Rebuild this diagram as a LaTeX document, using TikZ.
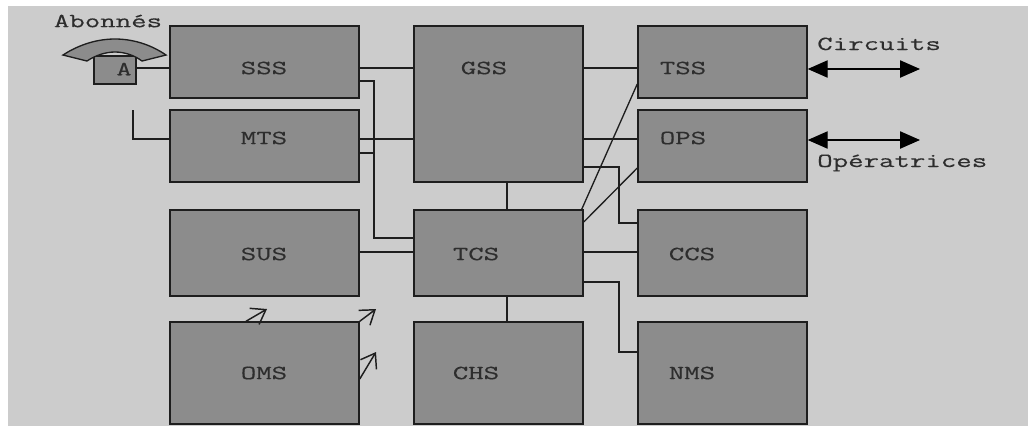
\documentclass[tikz,border=0pt]{standalone}
\usepackage{fontspec}
\setmonofont[FakeStretch=1.5, FakeBold=0.3]{Latin Modern Mono}
\usetikzlibrary{arrows.meta, positioning}
\definecolor{panelgray}{RGB}{204,204,204}
\definecolor{boxgray}{RGB}{140,140,140}
\definecolor{inkgray}{RGB}{30,30,30}
\definecolor{textgray}{RGB}{45,45,45}

\begin{document}
\begin{tikzpicture}[
  x=0.75pt, y=-0.75pt,
  box/.style 2 args={rectangle, draw=inkgray, line width=1.1pt, fill=boxgray,
              minimum width=#1*0.75pt, minimum height=#2*0.75pt, inner sep=0pt},
  lbl/.style={inner sep=0pt, text=textgray, font=\ttfamily\fontsize{15}{17}\selectfont},
  wire/.style={inkgray, line width=1pt},
  barb/.style={-{Straight Barb[length=10pt, width=14pt, line width=1.1pt]}, inkgray, line width=1.1pt},
  link/.style={{Triangle[length=15pt, width=13pt]}-{Triangle[length=15pt, width=13pt]}, black, line width=0.9pt}
]
\useasboundingbox (0,0) rectangle (1028,426);
\fill[panelgray] (8,6) rectangle (1028,426);

% left column
\node[box={189}{72}] (sss) at (264.5,62) {};
\node[box={189}{72}] (mts) at (264.5,146) {};
\node[box={189}{86}] (sus) at (264.5,253) {};
\node[box={189}{102}] (oms) at (264.5,373) {};
% middle column
\node[box={169}{156}] (gss) at (498.5,104) {};
\node[box={169}{86}] (tcs) at (498.5,253) {};
\node[box={169}{102}] (chs) at (498.5,373) {};
% right column
\node[box={169}{72}] (tss) at (722.5,62) {};
\node[box={169}{72}] (ops) at (722.5,146) {};
\node[box={169}{86}] (ccs) at (722.5,253) {};
\node[box={169}{102}] (nms) at (722.5,373) {};

\node[lbl] (ssslbl) at (264,68) {SSS};
\node[lbl] (mtslbl) at (264,138) {MTS};
\node[lbl] (suslbl) at (264,254) {SUS};
\node[lbl] (omslbl) at (264,373) {OMS};
\node[lbl] (gsslbl) at (484,68) {GSS};
\node[lbl] (tcslbl) at (476,254) {TCS};
\node[lbl] (chslbl) at (476,373) {CHS};
\node[lbl] (tsslbl) at (683,68) {TSS};
\node[lbl] (opslbl) at (683,138) {OPS};
\node[lbl] (ccslbl) at (692,254) {CCS};
\node[lbl] (nmslbl) at (692,373) {NMS};

% subscriber set
\node[box={42}{28}] (set) at (115,70) {};
\node[lbl] (setlbl) at (124,69) {A};
\filldraw[fill=boxgray, draw=inkgray, line width=1pt]
  (63,55) .. controls (80,44) and (98,39) .. (115,39)
  .. controls (132,39) and (150,44) .. (166,55) -- (142,61)
  .. controls (134,55) and (124,52) .. (115,52)
  .. controls (106,52) and (96,55) .. (87,61) -- cycle;
\node[lbl] (abonnes) at (108,21) {Abonnés};

\coordinate (spare) at (133,110);
\draw[wire] (set.east |- 0,68) -- (sss.west |- 0,68);
\draw[wire] (spare) -- (133,139) -- (mts.west |- 0,139);

\draw[wire] (sss.east |- 0,68) -- (gss.west |- 0,68);
\draw[wire] (mts.east |- 0,139) -- (gss.west |- 0,139);
\draw[wire] (sss.east |- 0,81) -- (374,81) -- (374,238) -- (tcs.west |- 0,238);
\draw[wire] (mts.east |- 0,153) -- (374,153);
\draw[wire] (sus.east |- 0,252) -- (tcs.west |- 0,252);
\draw[wire] (gss.south -| 507,0) -- (tcs.north -| 507,0);
\draw[wire] (tcs.south -| 507,0) -- (chs.north -| 507,0);

\draw[wire] (gss.east |- 0,68) -- (tss.west |- 0,68);
\draw[wire] (gss.east |- 0,139) -- (ops.west |- 0,139);
\draw[wire] (gss.east |- 0,167) -- (619,167) -- (619,223) -- (ccs.west |- 0,223);
\draw[wire] (tcs.north east) ++(-2,0) -- (tss.west |- 0,84);
\draw[wire] (tcs.east |- 0,222) -- (ops.west |- 0,168);
\draw[wire] (tcs.east |- 0,252) -- (ccs.west |- 0,252);
\draw[wire] (tcs.east |- 0,282) -- (619,282) -- (619,352) -- (nms.west |- 0,352);

% open arrows
\coordinate (tipa) at (267,309);
\coordinate (tipb) at (376,309);
\coordinate (tipc) at (376,352);
\draw[barb] (oms.north -| 246,0) -- (tipa);
\draw[barb] (oms.north east) -- (tipb);
\draw[barb] (oms.east |- 0,379) -- (tipc);

% outgoing links
\coordinate (circend) at (920,69);
\coordinate (opend) at (920,140);
\draw[link] (tss.east |- 0,69) -- (circend);
\draw[link] (ops.east |- 0,140) -- (opend);
\node[lbl, anchor=base west] (circuits) at (817,50) {Circuits};
\node[lbl, anchor=base west] (operatrices) at (817,167) {Opératrices};
\end{tikzpicture}
\end{document}
